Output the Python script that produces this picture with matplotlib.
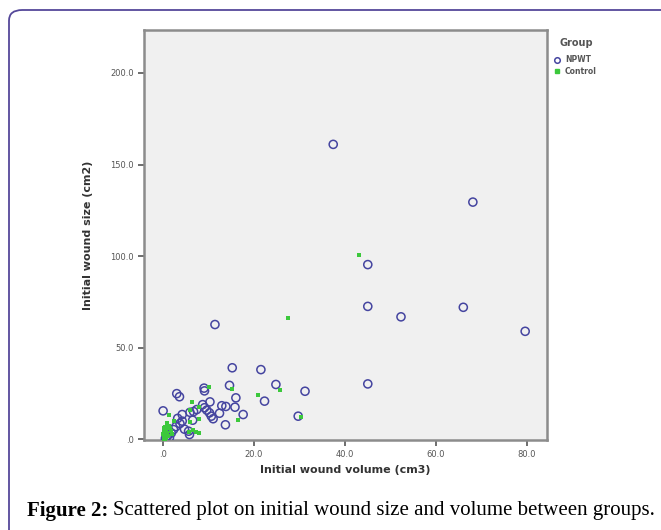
import numpy as np
import matplotlib.pyplot as plt
from matplotlib.patches import FancyBboxPatch

# data
npwt_x = [37.4, 68.1, 45.0, 45.0, 52.3, 66.0, 79.6, 11.4, 45.0, 15.2,
          21.5, 24.8, 31.2, 22.3, 29.7, 14.6, 16.0, 15.8, 17.6, 13.7,
          9.0, 9.1, 3.0, 3.6, 0.0, 10.3, 8.7, 9.1, 9.6, 12.9,
          13.8, 12.4, 10.2, 10.6, 11.0, 5.9, 6.7, 4.2, 4.2, 3.7,
          5.6, 4.7, 2.3, 5.8, 1.0, 1.4, 0.5, 7.4, 2.8, 1.8,
          0.8, 6.5, 3.2]
npwt_y = [161.0, 129.5, 95.4, 72.6, 66.9, 72.1, 59.0, 62.7, 30.3, 39.1,
          38.1, 30.0, 26.3, 20.9, 12.7, 29.5, 22.7, 17.6, 13.6, 8.0,
          28.0, 26.5, 25.0, 23.3, 15.6, 20.5, 19.0, 17.3, 16.0, 18.4,
          18.0, 14.3, 14.5, 12.7, 11.3, 14.8, 15.2, 13.6, 10.0, 8.7,
          4.5, 5.6, 5.4, 2.7, 2.0, 1.0, 0.5, 16.3, 7.0, 3.5,
          4.0, 10.5, 11.5]

control_x = [43.1, 27.4, 20.9, 25.6, 15.2, 10.0, 6.3, 8.0, 7.8, 16.4,
             30.3, 5.9, 1.4, 2.3, 5.8, 6.5, 7.2, 7.8, 5.9, 0.8,
             0.5, 0.3, 0.6, 0.2, 0.9, 0.4, 1.1, 0.1, 0.7, 0.3,
             1.5, 1.8, 2.0, 1.2, 0.0, 0.5]
control_y = [100.5, 66.5, 24.2, 27.2, 27.6, 28.5, 20.3, 17.8, 11.4, 10.5,
             12.2, 16.0, 13.1, 10.0, 4.0, 5.0, 4.2, 3.5, 9.5, 9.0,
             7.0, 6.0, 5.0, 4.0, 3.5, 2.5, 2.0, 1.5, 1.0, 0.5,
             6.0, 4.5, 3.0, 7.5, 3.0, 0.0]

xticks = [0, 20, 40, 60, 80]
xtick_labels = ['.0', '20.0', '40.0', '60.0', '80.0']
yticks = [0, 50, 100, 150, 200]
ytick_labels = ['.0', '50.0', '100.0', '150.0', '200.0']

fig = plt.figure(figsize=(6.61, 5.30), dpi=100)
W, H = 661.0, 530.0

# rounded frame round the figure (right and bottom run off the page)
frame = FancyBboxPatch((9 / W, -0.05), 1.1, 1.0 - 10 / H + 0.05,
                       boxstyle="round,pad=0,rounding_size=0.02",
                       transform=fig.transFigure, fill=False,
                       edgecolor='#55489a', linewidth=1.3)
fig.patches.append(frame)

ax = fig.add_axes([144 / W, 1 - 440 / H, (547 - 144) / W, (440 - 30) / H])
ax.set_facecolor('#f0f0f0')

ax.scatter(npwt_x, npwt_y, s=34, facecolors='none', edgecolors='#4545a0',
           linewidths=1.1, zorder=3)
ax.scatter(control_x, control_y, s=9, marker='s', color='#3cc83c',
           linewidths=0, zorder=4)

ax.set_xlim(-4.2, 84.4)
ax.set_ylim(-0.3, 223.4)
ax.set_xticks(xticks)
ax.set_xticklabels(xtick_labels)
ax.set_yticks(yticks)
ax.set_yticklabels(ytick_labels)
ax.tick_params(labelsize=6, colors='#555555', length=4, width=1.2)
for s in ax.spines.values():
    s.set_color('#8c8c8c')
    s.set_linewidth(1.8)

ax.set_xlabel('Initial wound volume (cm3)', fontsize=8, fontweight='bold',
              color='#333333', labelpad=4)
ax.set_ylabel('Initial wound size (cm2)', fontsize=8, fontweight='bold',
              color='#333333', labelpad=12)

# legend drawn by hand on the right
fig.text(560 / W, 1 - 43 / H, 'Group', fontsize=7, fontweight='bold',
         color='#555555', va='center')
fig.lines.append(plt.Line2D([557 / W], [1 - 60 / H], marker='o', markersize=4,
                            markerfacecolor='none', markeredgecolor='#4545a0',
                            markeredgewidth=1.1, transform=fig.transFigure))
fig.lines.append(plt.Line2D([557 / W], [1 - 71 / H], marker='s', markersize=2.5,
                            color='#3cc83c', transform=fig.transFigure))
fig.text(565 / W, 1 - 60 / H, 'NPWT', fontsize=5.5, fontweight='bold',
         color='#555555', va='center')
fig.text(565 / W, 1 - 71 / H, 'Control', fontsize=5.5, fontweight='bold',
         color='#555555', va='center')

# caption
fig.text(27 / W, 1 - 511 / H, 'Figure 2:', fontsize=15, fontweight='bold',
         family='Liberation Serif', va='center')
fig.text(113 / W, 1 - 511 / H,
         'Scattered plot on initial wound size and volume between groups.',
         fontsize=15, family='Liberation Serif', va='center')

plt.savefig('out.png', dpi=100)
